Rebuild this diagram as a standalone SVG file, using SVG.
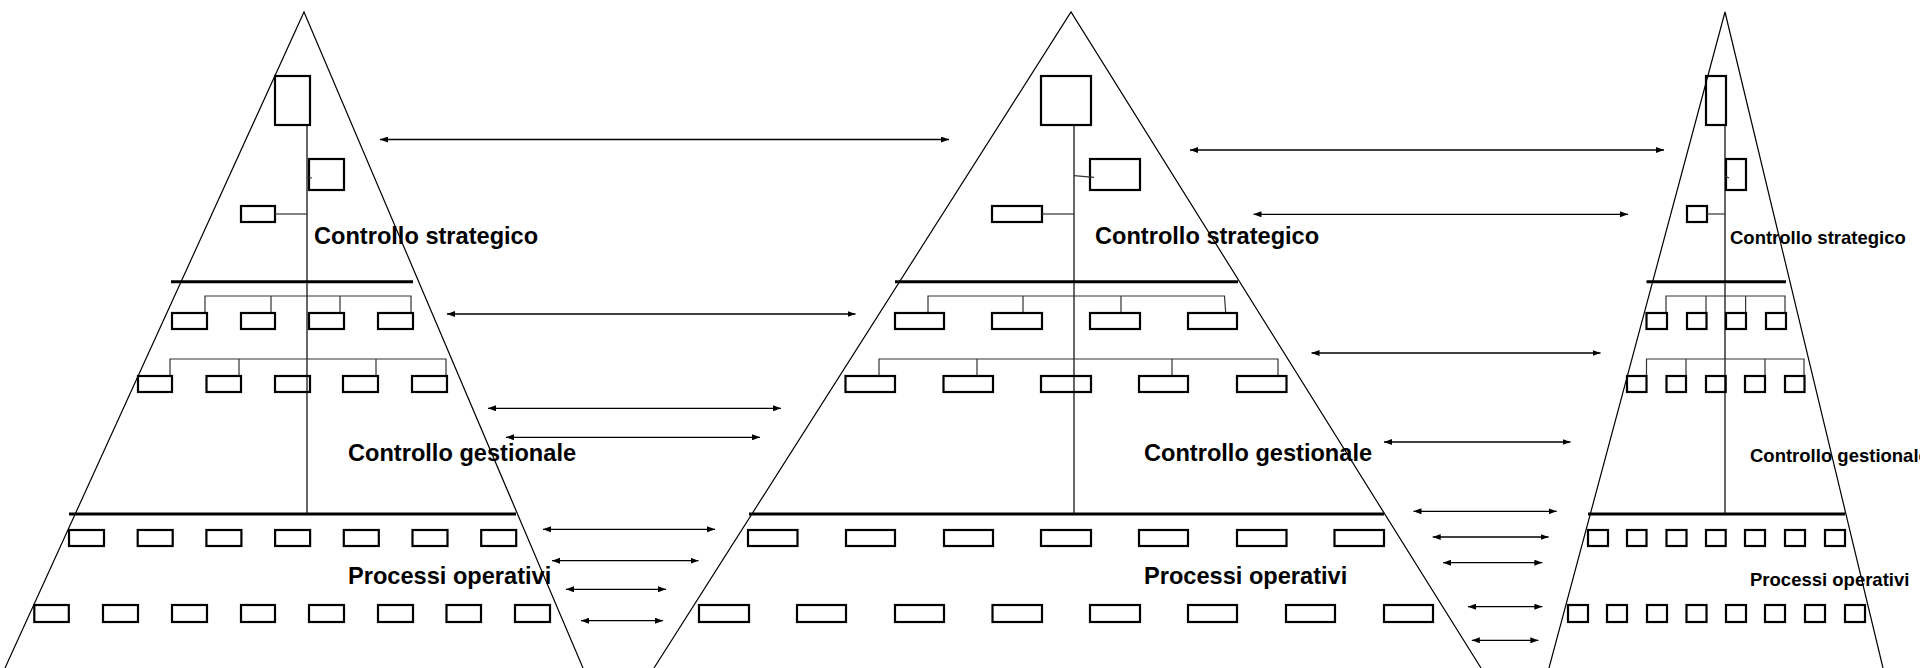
<svg xmlns="http://www.w3.org/2000/svg" width="1920" height="668" viewBox="0 0 1920 668">
  <defs>
    <marker id="head" viewBox="0 0 8 6" refX="8" refY="3" markerWidth="8" markerHeight="6" markerUnits="userSpaceOnUse" orient="auto-start-reverse">
      <path d="M0,0 L8,3 L0,6 z" fill="#000"/>
    </marker>
  </defs>
  <style>
    .edge { fill: none; stroke: #000; stroke-width: 1.2; }
    .sep { stroke: #000; stroke-width: 3; }
    .axis { stroke: #000; stroke-width: 1.2; }
    .link { fill: none; stroke: #333; stroke-width: 1.2; }
    .box { fill: none; stroke: #000; stroke-width: 2.2; }
    .big { font-family: "Liberation Sans", Arial, sans-serif; font-weight: bold; font-size: 23.6px; fill: #000; }
    .small { font-family: "Liberation Sans", Arial, sans-serif; font-weight: bold; font-size: 18.5px; fill: #000; }
    .arrow { stroke: #000; stroke-width: 1.3; marker-start: url(#head); marker-end: url(#head); }
  </style>
  <rect width="1920" height="668" fill="#fff"/>

  <!-- left pyramid -->
  <g id="pyramid-left">
    <polyline class="edge" points="5,668 304,12 583,668"/>
    <line class="axis" x1="307" y1="125" x2="307" y2="514"/>
    <rect class="box" x="275" y="76" width="35" height="49"/>
    <rect class="box" x="309" y="159" width="35" height="31"/>
    <line class="link" x1="307" y1="177" x2="312" y2="178"/>
    <rect class="box" x="241" y="206" width="34" height="16"/>
    <line class="link" x1="275" y1="214" x2="307" y2="214"/>
    <line class="sep" x1="171" y1="281.7" x2="413" y2="281.7"/>
    <path class="link" d="M205,313 V296 H411 V313 M271,296 V313 M340,296 V313"/>
    <g>
      <rect class="box" x="172" y="313" width="35" height="16"/>
      <rect class="box" x="241" y="313" width="34" height="16"/>
      <rect class="box" x="309" y="313" width="35" height="16"/>
      <rect class="box" x="378" y="313" width="35" height="16"/>
    </g>
    <path class="link" d="M170,376 V359 H446 V376 M239,359 V376 M376,359 V376"/>
    <g>
      <rect class="box" x="138" y="376" width="34" height="16"/>
      <rect class="box" x="206.5" y="376" width="34.5" height="16"/>
      <rect class="box" x="275" y="376" width="35" height="16"/>
      <rect class="box" x="343" y="376" width="35" height="16"/>
      <rect class="box" x="412" y="376" width="35" height="16"/>
    </g>
    <line class="sep" x1="69" y1="514" x2="516" y2="514"/>
    <g>
      <rect class="box" x="69" y="530" width="35" height="16"/>
      <rect class="box" x="137.7" y="530" width="35" height="16"/>
      <rect class="box" x="206.4" y="530" width="35" height="16"/>
      <rect class="box" x="275.1" y="530" width="35" height="16"/>
      <rect class="box" x="343.8" y="530" width="35" height="16"/>
      <rect class="box" x="412.5" y="530" width="35" height="16"/>
      <rect class="box" x="481.2" y="530" width="35" height="16"/>
    </g>
    <g>
      <rect class="box" x="34.3" y="605" width="34.5" height="17"/>
      <rect class="box" x="103" y="605" width="35" height="17"/>
      <rect class="box" x="172" y="605" width="35" height="17"/>
      <rect class="box" x="241" y="605" width="34" height="17"/>
      <rect class="box" x="309" y="605" width="35" height="17"/>
      <rect class="box" x="378" y="605" width="35" height="17"/>
      <rect class="box" x="446.5" y="605" width="34.5" height="17"/>
      <rect class="box" x="515" y="605" width="35" height="17"/>
    </g>
    <text class="big" x="314" y="244">Controllo strategico</text>
    <text class="big" x="348" y="461">Controllo gestionale</text>
    <text class="big" x="348" y="584">Processi operativi</text>
  </g>

  <!-- middle pyramid -->
  <g id="pyramid-middle">
    <polyline class="edge" points="654,668 1071,12 1481,668"/>
    <line class="axis" x1="1074" y1="125" x2="1074" y2="514"/>
    <rect class="box" x="1041" y="76" width="50" height="49"/>
    <rect class="box" x="1090" y="159" width="50" height="31"/>
    <line class="link" x1="1074" y1="175.7" x2="1094" y2="177.3"/>
    <rect class="box" x="992" y="206" width="50" height="16"/>
    <line class="link" x1="1042" y1="214" x2="1074" y2="214"/>
    <line class="sep" x1="895" y1="281.7" x2="1238" y2="281.7"/>
    <path class="link" d="M928,313 V296 H1224.5 L1225.7,313 M1023,296 V313 M1121,296 V313"/>
    <g>
      <rect class="box" x="895" y="313" width="49" height="16"/>
      <rect class="box" x="992" y="313" width="50" height="16"/>
      <rect class="box" x="1090" y="313" width="50" height="16"/>
      <rect class="box" x="1188" y="313" width="49" height="16"/>
    </g>
    <path class="link" d="M879,376 V359 H1278 V376 M977,359 V376 M1172,359 V376"/>
    <g>
      <rect class="box" x="845.5" y="376" width="49.5" height="16"/>
      <rect class="box" x="943.5" y="376" width="49.5" height="16"/>
      <rect class="box" x="1041" y="376" width="50" height="16"/>
      <rect class="box" x="1139" y="376" width="49" height="16"/>
      <rect class="box" x="1237" y="376" width="49.5" height="16"/>
    </g>
    <line class="sep" x1="749" y1="514" x2="1384" y2="514"/>
    <g>
      <rect class="box" x="748" y="530" width="49.5" height="16"/>
      <rect class="box" x="846" y="530" width="49" height="16"/>
      <rect class="box" x="944" y="530" width="49" height="16"/>
      <rect class="box" x="1041" y="530" width="50" height="16"/>
      <rect class="box" x="1139" y="530" width="49" height="16"/>
      <rect class="box" x="1237" y="530" width="49.5" height="16"/>
      <rect class="box" x="1334.5" y="530" width="49.5" height="16"/>
    </g>
    <g>
      <rect class="box" x="699" y="605" width="50" height="17"/>
      <rect class="box" x="797" y="605" width="49" height="17"/>
      <rect class="box" x="895" y="605" width="49" height="17"/>
      <rect class="box" x="992.5" y="605" width="49.5" height="17"/>
      <rect class="box" x="1090" y="605" width="50" height="17"/>
      <rect class="box" x="1188" y="605" width="49" height="17"/>
      <rect class="box" x="1286" y="605" width="49" height="17"/>
      <rect class="box" x="1384" y="605" width="49" height="17"/>
    </g>
    <text class="big" x="1095" y="244">Controllo strategico</text>
    <text class="big" x="1144" y="461">Controllo gestionale</text>
    <text class="big" x="1144" y="584">Processi operativi</text>
  </g>

  <!-- right pyramid -->
  <g id="pyramid-right">
    <polyline class="edge" points="1549,668 1725,12 1883,668"/>
    <line class="axis" x1="1725" y1="125" x2="1725" y2="514"/>
    <rect class="box" x="1706" y="76" width="20" height="49"/>
    <rect class="box" x="1726" y="159" width="20" height="31"/>
    <line class="link" x1="1725" y1="176" x2="1729" y2="178"/>
    <rect class="box" x="1687" y="206" width="20" height="16"/>
    <line class="link" x1="1707" y1="214" x2="1725" y2="214"/>
    <line class="sep" x1="1646.5" y1="281.7" x2="1786" y2="281.7"/>
    <path class="link" d="M1666,313 V296 H1785 V313 M1706,296 V313 M1745.6,296 V313"/>
    <g>
      <rect class="box" x="1646.5" y="313" width="20.5" height="16"/>
      <rect class="box" x="1687" y="313" width="19.5" height="16"/>
      <rect class="box" x="1726" y="313" width="20" height="16"/>
      <rect class="box" x="1766" y="313" width="20" height="16"/>
    </g>
    <path class="link" d="M1646.5,376 V359 H1804 V376 M1686,359 V376 M1765,359 V376"/>
    <g>
      <rect class="box" x="1627" y="376" width="19.5" height="16"/>
      <rect class="box" x="1666.5" y="376" width="19.5" height="16"/>
      <rect class="box" x="1706" y="376" width="19.7" height="16"/>
      <rect class="box" x="1745" y="376" width="20" height="16"/>
      <rect class="box" x="1785" y="376" width="19.5" height="16"/>
    </g>
    <line class="sep" x1="1588" y1="514" x2="1845" y2="514"/>
    <g>
      <rect class="box" x="1588" y="530" width="20" height="16"/>
      <rect class="box" x="1627" y="530" width="19.5" height="16"/>
      <rect class="box" x="1666.5" y="530" width="20" height="16"/>
      <rect class="box" x="1706" y="530" width="19.7" height="16"/>
      <rect class="box" x="1745" y="530" width="20" height="16"/>
      <rect class="box" x="1785" y="530" width="20" height="16"/>
      <rect class="box" x="1825" y="530" width="20" height="16"/>
    </g>
    <g>
      <rect class="box" x="1568" y="605" width="20" height="17"/>
      <rect class="box" x="1607" y="605" width="20" height="17"/>
      <rect class="box" x="1647" y="605" width="20" height="17"/>
      <rect class="box" x="1686.5" y="605" width="20" height="17"/>
      <rect class="box" x="1726" y="605" width="20" height="17"/>
      <rect class="box" x="1765" y="605" width="20" height="17"/>
      <rect class="box" x="1805" y="605" width="20" height="17"/>
      <rect class="box" x="1845" y="605" width="20" height="17"/>
    </g>
    <text class="small" x="1730" y="244">Controllo strategico</text>
    <text class="small" x="1750" y="462">Controllo gestionale</text>
    <text class="small" x="1750" y="586">Processi operativi</text>
  </g>

  <!-- two-way links between the pyramids -->
  <g id="connectors">
    <line class="arrow" x1="380" y1="139.5" x2="949" y2="139.5"/>
    <line class="arrow" x1="447" y1="314" x2="855.5" y2="314"/>
    <line class="arrow" x1="488" y1="408.3" x2="781" y2="408.3"/>
    <line class="arrow" x1="506" y1="437.3" x2="760" y2="437.3"/>
    <line class="arrow" x1="543" y1="529.3" x2="715" y2="529.3"/>
    <line class="arrow" x1="552" y1="560.7" x2="698.5" y2="560.7"/>
    <line class="arrow" x1="566" y1="589.3" x2="666" y2="589.3"/>
    <line class="arrow" x1="581" y1="620.7" x2="663" y2="620.7"/>

    <line class="arrow" x1="1190" y1="150" x2="1664" y2="150"/>
    <line class="arrow" x1="1253.5" y1="214.3" x2="1628" y2="214.3"/>
    <line class="arrow" x1="1311.5" y1="353" x2="1600.5" y2="353"/>
    <line class="arrow" x1="1384" y1="442" x2="1570.5" y2="442"/>
    <line class="arrow" x1="1413.5" y1="511.3" x2="1556.7" y2="511.3"/>
    <line class="arrow" x1="1432.7" y1="537" x2="1548.6" y2="537"/>
    <line class="arrow" x1="1443" y1="562.7" x2="1542.4" y2="562.7"/>
    <line class="arrow" x1="1468" y1="606.7" x2="1542.4" y2="606.7"/>
    <line class="arrow" x1="1471.8" y1="640.3" x2="1538.4" y2="640.3"/>
  </g>
</svg>
